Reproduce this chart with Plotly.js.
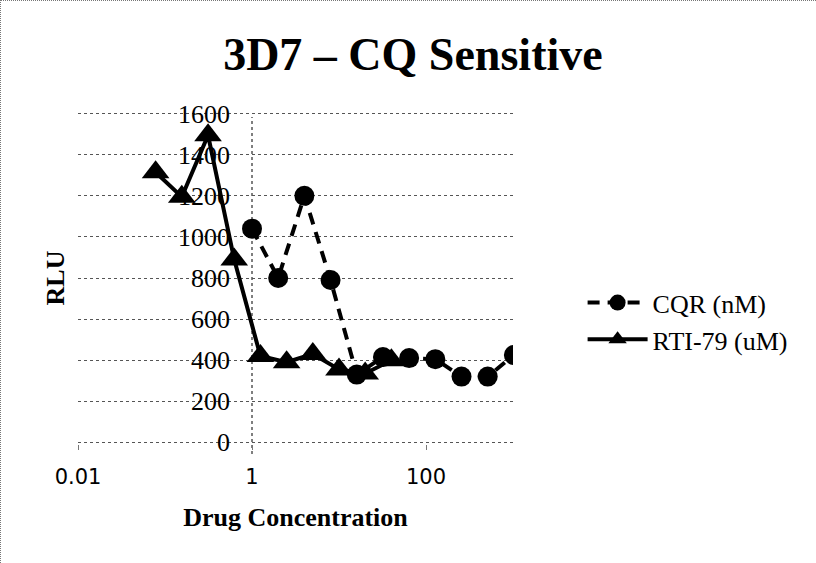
<!DOCTYPE html>
<html>
<head>
<meta charset="utf-8">
<script src="https://cdn.plot.ly/plotly-3.0.1.min.js"></script>
<style>
  html, body { margin: 0; padding: 0; background: #fff; }
  #wrap { position: relative; width: 816px; height: 563px; }
  #chart { width: 816px; height: 563px; }
  #frame { position: absolute; left: 0; top: 0; width: 816px; height: 563px;
           border-left: 1px dotted #777; border-top: 1px dotted #777; box-sizing: border-box; pointer-events: none; }
</style>
</head>
<body>
<div id="wrap"><div id="chart"></div><div id="frame"></div></div>
<script>
// Data
const cqrConc = [1, 2, 4, 8, 16, 32, 64, 128, 256, 512, 1024];
const cqrRLU  = [1040, 800, 1200, 790, 330, 415, 410, 405, 320, 320, 425];

const rtiConc = [0.078, 0.156, 0.3125, 0.625, 1.25, 2.5, 5, 10, 20, 40];
const rtiRLU  = [1315, 1195, 1495, 890, 420, 390, 430, 355, 335, 400];

const xTickVals = [0.01, 1, 100];
const xTickText = ['0.01', '1', '100'];
const yTickVals = [0, 200, 400, 600, 800, 1000, 1200, 1400, 1600];

const serif = 'Liberation Serif, Times New Roman, serif';

const traces = [
  {
    x: cqrConc, y: cqrRLU, name: 'CQR (nM)', type: 'scatter', mode: 'lines+markers',
    line: { color: '#000', width: 4, dash: '12px,8px' },
    marker: { symbol: 'circle', size: 20, color: '#000' }
  },
  {
    x: rtiConc, y: rtiRLU, name: 'RTI-79 (uM)', type: 'scatter', mode: 'lines+markers',
    line: { color: '#000', width: 4 },
    marker: { symbol: 'triangle-up', size: 24, color: '#000' }
  }
];

const layout = {
  width: 816, height: 563,
  paper_bgcolor: '#fff', plot_bgcolor: '#fff',
  margin: { l: 78, r: 303, t: 112, b: 119 },
  showlegend: true,
  title: {
    text: '<b>3D7 – CQ Sensitive</b>',
    font: { family: serif, size: 46, color: '#000' },
    x: 0.506, xanchor: 'center', y: 0.905, yanchor: 'middle'
  },
  xaxis: {
    type: 'log', range: [-2, 3],
    tickvals: xTickVals, ticktext: xTickText,
    tickfont: { family: 'DejaVu Sans, sans-serif', size: 21, color: '#000' },
    ticks: 'outside', ticklen: 5, tickcolor: '#777', tickwidth: 1,
    ticklabelstandoff: 9,
    showgrid: false, zeroline: false, showline: false,
    title: { text: '<b>Drug Concentration</b>', font: { family: serif, size: 26, color: '#000' }, standoff: 19 }
  },
  yaxis: {
    range: [-8, 1608], tickvals: yTickVals,
    showticklabels: false, ticks: '',
    showgrid: true, gridcolor: '#555', griddash: 'dot', gridwidth: 1,
    zeroline: false, showline: false,
    title: { text: '<b>RLU</b>', font: { family: serif, size: 26, color: '#000' }, standoff: 4 }
  },
  yaxis2: {
    overlaying: 'y', matches: 'y', anchor: 'free', position: 0.4, side: 'left',
    range: [-8, 1608], tickvals: yTickVals,
    tickfont: { family: serif, size: 26, color: '#000' },
    ticks: '', ticklabelstandoff: 22,
    showgrid: false, zeroline: false, showline: false
  },
  legend: {
    x: 1.16, xanchor: 'left', y: 0.37, yanchor: 'middle',
    font: { family: serif, size: 26, color: '#000' },
    itemwidth: 60, tracegroupgap: 0, bgcolor: 'rgba(0,0,0,0)'
  },
  shapes: [
    { type: 'line', xref: 'paper', yref: 'paper', x0: 0.4, x1: 0.4, y0: -0.03, y1: 0.985,
      line: { color: '#555', width: 1.5, dash: 'dot' }, layer: 'below' }
  ]
};

// invisible trace to activate the second (label-only) y axis at x = 1
traces.push({ x: [1], y: [0], yaxis: 'y2', type: 'scatter', mode: 'markers',
  marker: { opacity: 0 }, showlegend: false, hoverinfo: 'skip' });

Plotly.newPlot('chart', traces, layout, { displayModeBar: false, staticPlot: true });
</script>
</body>
</html>
